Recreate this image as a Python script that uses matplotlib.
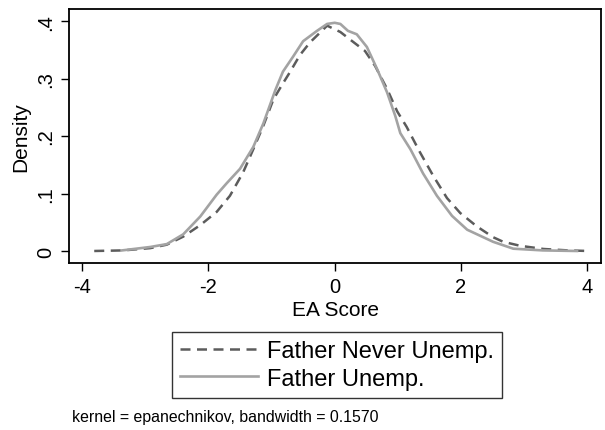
import matplotlib
matplotlib.use('Agg')
import matplotlib.pyplot as plt
from matplotlib.ticker import FixedLocator

plt.rcParams['font.family'] = ['Liberation Sans', 'DejaVu Sans']
plt.rcParams['axes.unicode_minus'] = False

# kernel density readings, father never unemployed (dashed)
never_x = [-3.81, -3.35, -2.92, -2.66, -2.40, -2.13, -1.87, -1.66, -1.45, -1.29,
           -1.13, -0.97, -0.84, -0.71, -0.55, -0.39, -0.25, -0.12, 0.09, 0.29,
           0.48, 0.64, 0.83, 0.99, 1.14, 1.35, 1.56, 1.78, 1.99, 2.25,
           2.51, 2.67, 2.94, 3.31, 3.70, 4.02]
never_d = [0.0, 0.001, 0.005, 0.011, 0.025, 0.045, 0.068, 0.096, 0.137, 0.177,
           0.218, 0.264, 0.288, 0.311, 0.341, 0.363, 0.378, 0.392, 0.381, 0.364,
           0.348, 0.322, 0.282, 0.243, 0.216, 0.172, 0.131, 0.092, 0.066, 0.043,
           0.024, 0.016, 0.009, 0.0035, 0.001, 0.0]

# father unemployed (solid)
unemp_x = [-3.37, -2.92, -2.66, -2.40, -2.13, -1.87, -1.71, -1.50, -1.29, -1.13,
           -0.94, -0.82, -0.66, -0.50, -0.28, -0.12, 0.0, 0.09, 0.21, 0.35,
           0.51, 0.67, 0.83, 0.96, 1.04, 1.20, 1.40, 1.62, 1.86, 2.10,
           2.51, 2.83, 3.30, 3.84]
unemp_d = [0.001, 0.007, 0.012, 0.029, 0.060, 0.098, 0.118, 0.143, 0.181, 0.222,
           0.280, 0.312, 0.338, 0.365, 0.383, 0.395, 0.397, 0.395, 0.383, 0.377,
           0.355, 0.317, 0.276, 0.235, 0.205, 0.177, 0.135, 0.096, 0.061, 0.037,
           0.016, 0.004, 0.001, 0.0]

xticks = [-4, -2, 0, 2, 4]
yticks = [0, 0.1, 0.2, 0.3, 0.4]
ylabels = ['0', '.1', '.2', '.3', '.4']

fig = plt.figure(figsize=(6.05, 4.31), dpi=100)
ax = fig.add_axes([69/605, 1 - 264/431, 532/605, 254/431])

l1, = ax.plot(never_x, never_d, color='#5c5c5c', lw=1.8, dashes=(4, 2.6),
              label='Father Never Unemp.')
l2, = ax.plot(unemp_x, unemp_d, color='#a3a3a3', lw=1.9,
              label='Father Unemp.')

ax.set_xlim(-4.21, 4.22)
ax.set_ylim(-0.0209, 0.421)
ax.xaxis.set_major_locator(FixedLocator(xticks))
ax.set_yticks(yticks)
ax.set_yticklabels(ylabels, rotation=90, va='center')
ax.tick_params(labelsize=14.5, length=6, width=1, color='black', pad=4)
ax.set_xlabel('EA Score', fontsize=15, labelpad=3)
ax.set_ylabel('Density', fontsize=15, labelpad=4)
for s in ax.spines.values():
    s.set_linewidth(1.3)
    s.set_color('black')

leg = fig.legend(handles=[l1, l2], loc='center', bbox_to_anchor=(337/605, 1 - 366/431),
                 fontsize=17, frameon=True, fancybox=False, edgecolor='black',
                 handlelength=3.3, handletextpad=0.35, labelspacing=0.22,
                 borderpad=0.35, borderaxespad=0)
leg.get_frame().set_linewidth(1.0)

fig.text(72/605, 1 - 418/431, 'kernel = epanechnikov, bandwidth = 0.1570',
         fontsize=11.4, va='center', ha='left')

fig.savefig('out.png', dpi=100)
